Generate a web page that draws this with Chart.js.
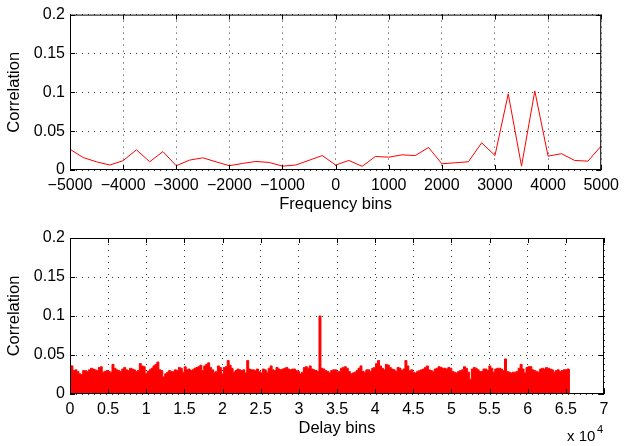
<!DOCTYPE html>
<html><head><meta charset="utf-8">
<script src="https://cdn.jsdelivr.net/npm/chart.js@4"></script>
<style>
html,body{margin:0;padding:0;background:#fff;}
#wrap{position:relative;width:625px;height:446px;overflow:hidden;}
canvas{position:absolute;left:0;}
#c1{top:0;}
#c2{top:223px;}
.t{position:absolute;font-family:"Liberation Sans",Arial,sans-serif;color:#000;white-space:nowrap;}
</style></head>
<body>
<div id="wrap">
<canvas id="c1" width="625" height="223"></canvas>
<canvas id="c2" width="625" height="223"></canvas>
<span class="t" style="left:567px;top:427px;font-size:15px;">x 10</span>
<span class="t" style="left:597px;top:423px;font-size:11px;">4</span>
</div>
<script>
// ---- Top panel: correlation vs frequency bin ----
const freqBins = [-5000,-4750,-4500,-4250,-4000,-3750,-3500,-3250,-3000,-2750,-2500,-2250,-2000,-1750,-1500,-1250,-1000,-750,-500,-250,0,250,500,750,1000,1250,1500,1750,2000,2250,2500,2750,3000,3250,3500,3750,4000,4250,4500,4750,5000];
const freqCorr = [0.0267,0.016,0.0105,0.0064,0.012,0.026,0.0106,0.0237,0.0055,0.0127,0.0157,0.0105,0.0055,0.0085,0.011,0.0097,0.005,0.0064,0.0125,0.0186,0.0064,0.0123,0.0047,0.0174,0.0165,0.0195,0.0186,0.029,0.008,0.0093,0.0106,0.035,0.0186,0.098,0.005,0.1017,0.0178,0.021,0.0123,0.0114,0.031];
const freqTicks = [-5000,-4000,-3000,-2000,-1000,0,1000,2000,3000,4000,5000];

// ---- Bottom panel: correlation vs delay bin (envelope read every 256 bins) ----
const delayStep = 256;
const delayCorr = [
0.037,0.036,0.030,0.031,0.029,0.026,0.025,0.030,0.030,0.029,0.031,0.033,0.032,0.031,0.030,0.034,
0.035,0.028,0.029,0.030,0.029,0.028,0.038,0.033,0.031,0.030,0.029,0.032,0.034,0.031,0.030,0.033,
0.032,0.031,0.029,0.030,0.039,0.036,0.035,0.026,0.029,0.031,0.033,0.036,0.038,0.041,0.031,0.030,
0.022,0.026,0.028,0.030,0.029,0.029,0.031,0.030,0.034,0.033,0.028,0.035,0.031,0.032,0.030,0.031,
0.033,0.034,0.035,0.037,0.030,0.036,0.038,0.040,0.034,0.031,0.028,0.029,0.036,0.034,0.026,0.034,
0.035,0.043,0.037,0.033,0.028,0.030,0.032,0.031,0.030,0.031,0.027,0.043,0.032,0.031,0.031,0.030,
0.032,0.029,0.027,0.032,0.031,0.028,0.033,0.036,0.031,0.030,0.034,0.032,0.031,0.032,0.033,0.034,
0.032,0.031,0.032,0.032,0.030,0.029,0.026,0.028,0.034,0.035,0.033,0.036,0.032,0.031,0.030,0.029,
0.100,
0.033,0.032,0.030,0.029,0.027,0.030,0.031,0.031,0.029,0.029,0.033,0.034,0.035,0.033,0.029,0.026,
0.027,0.028,0.030,0.033,0.036,0.029,0.028,0.031,0.031,0.029,0.033,0.034,0.039,0.043,0.036,0.033,
0.031,0.038,0.037,0.034,0.032,0.031,0.029,0.034,0.033,0.030,0.032,0.043,0.036,0.030,0.031,0.028,
0.027,0.029,0.030,0.031,0.032,0.034,0.036,0.031,0.030,0.029,0.032,0.033,0.035,0.034,0.033,
0.033,0.032,0.034,0.033,0.029,0.028,0.027,0.029,0.030,0.031,0.035,0.033,0.028,0.019,0.032,0.034,
0.033,0.031,0.029,0.029,0.032,0.032,0.030,0.036,0.033,0.028,0.032,0.033,0.033,0.032,0.030,0.045,
0.029,0.028,0.027,0.028,0.028,0.029,0.033,0.038,0.032,0.027,0.034,0.035,0.035,0.031,0.030,0.029,
0.028,0.032,0.033,0.032,0.034,0.033,0.032,0.031,0.028,0.030,0.031,0.029,0.030,0.031,0.031,0.032,
0.031];
const delayTickLabels = ['0','0.5','1','1.5','2','2.5','3','3.5','4','4.5','5','5.5','6','6.5','7'];
const corrTicks = [0,0.05,0.1,0.15,0.2];

Chart.defaults.font.family = '"Liberation Sans", Arial, sans-serif';
Chart.defaults.font.size = 16;
Chart.defaults.color = '#000';

const framePlugin = {
  id: 'frame',
  afterDatasetsDraw(chart) {
    const {ctx, chartArea: a, scales: {x, y}} = chart;
    ctx.save();
    ctx.strokeStyle = '#000';
    ctx.lineWidth = 1;
    ctx.setLineDash([]);
    ctx.strokeRect(a.left + 0.5, a.top + 0.5, a.right - a.left - 1, a.bottom - a.top - 1);
    ctx.beginPath();
    x.ticks.forEach(t => {
      const p = Math.round(x.getPixelForValue(t.value)) + 0.5;
      ctx.moveTo(p, a.bottom); ctx.lineTo(p, a.bottom - 5);
      ctx.moveTo(p, a.top); ctx.lineTo(p, a.top + 5);
    });
    y.ticks.forEach(t => {
      const p = Math.round(y.getPixelForValue(t.value)) + 0.5;
      ctx.moveTo(a.left, p); ctx.lineTo(a.left + 5, p);
      ctx.moveTo(a.right, p); ctx.lineTo(a.right - 5, p);
    });
    ctx.stroke();
    ctx.restore();
  }
};

function yScale() {
  return {
    type: 'linear', min: 0, max: 0.2,
    afterBuildTicks: s => { s.ticks = corrTicks.map(v => ({value: v})); },
    afterFit: s => { s.width = 70; },
    ticks: { padding: 5, callback: v => String(+(+v).toFixed(2)) },
    grid: { color: '#333', drawTicks: false, lineWidth: 1 },
    border: { display: false, dash: [1, 5] },
    title: { display: true, text: 'Correlation', font: {size: 16.5}, padding: {top: 5, bottom: 0} }
  };
}

function baseOptions() {
  return {
    responsive: false, animation: false, events: [],
    plugins: { legend: {display: false}, tooltip: {enabled: false} }
  };
}

// Top chart
const o1 = baseOptions();
o1.layout = { padding: {left: 0, right: 21, top: 13, bottom: 0} };
o1.scales = {
  x: {
    type: 'linear', min: -5000, max: 5000,
    afterBuildTicks: s => { s.ticks = freqTicks.map(v => ({value: v})); },
    afterFit: s => { s.height = 53; },
    ticks: { padding: 6, autoSkip: false, maxRotation: 0,
      callback: v => v < 0 ? '\u2212' + Math.abs(v) : String(v) },
    grid: { color: '#333', drawTicks: false, lineWidth: 1 },
    border: { display: false, dash: [1, 5] },
    title: { display: true, text: 'Frequency bins', font: {size: 16.5}, padding: {top: 0, bottom: 9} }
  },
  y: yScale()
};
new Chart(document.getElementById('c1'), {
  type: 'line',
  data: { datasets: [{
    data: freqBins.map((f, i) => ({x: f, y: freqCorr[i]})),
    borderColor: '#ff0000', borderWidth: 1, pointRadius: 0, fill: false, tension: 0
  }]},
  options: o1,
  plugins: [framePlugin]
});

// Bottom chart
const o2 = baseOptions();
o2.layout = { padding: {left: 0, right: 21, top: 15, bottom: 0} };
o2.scales = {
  x: {
    type: 'linear', min: 0, max: 70000,
    afterBuildTicks: s => { s.ticks = delayTickLabels.map((l, i) => ({value: i * 5000})); },
    afterFit: s => { s.height = 52; },
    ticks: { padding: 6, autoSkip: false, maxRotation: 0,
      callback: (v, i) => delayTickLabels[i] },
    grid: { color: '#333', drawTicks: false, lineWidth: 1 },
    border: { display: false, dash: [1, 5] },
    title: { display: true, text: 'Delay bins', font: {size: 16.5}, padding: {top: 0, bottom: 8} }
  },
  y: yScale()
};
new Chart(document.getElementById('c2'), {
  type: 'line',
  data: { datasets: [{
    data: delayCorr.map((c, i) => ({x: i * delayStep, y: c})),
    borderColor: '#ff0000', backgroundColor: '#ff0000', borderWidth: 1,
    pointRadius: 0, fill: 'origin', stepped: 'middle'
  }]},
  options: o2,
  plugins: [framePlugin]
});
</script>
</body></html>
